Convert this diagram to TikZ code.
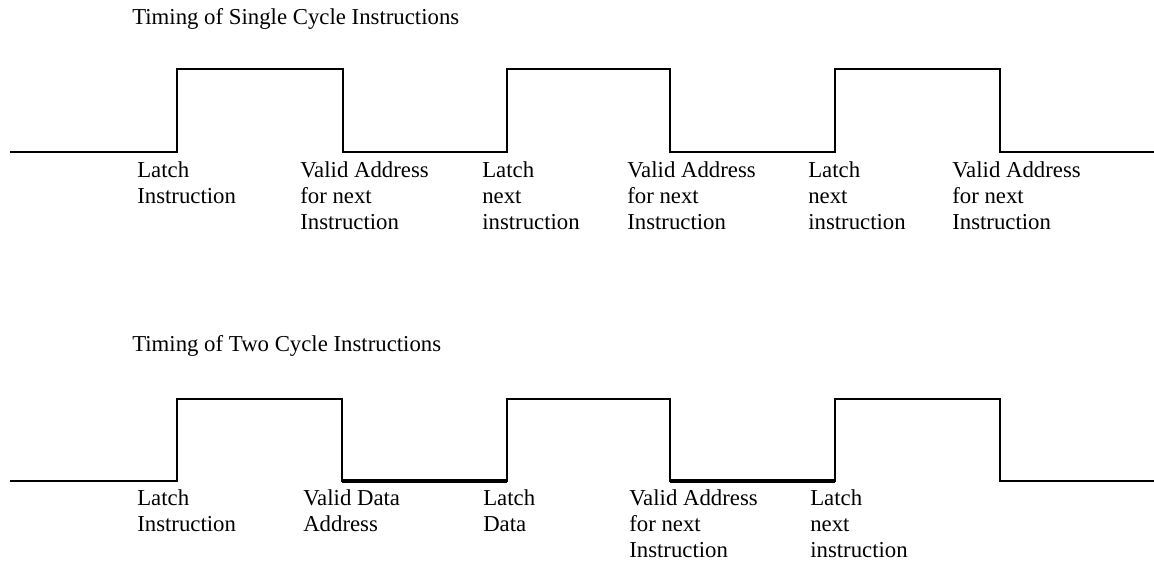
\documentclass[tikz,border=0pt]{standalone}
\usepackage{fontspec}
\setmainfont{Liberation Serif}
\usepackage{tikz}
\usetikzlibrary{positioning}

\begin{document}
\begin{tikzpicture}[x=0.025cm,y=-0.025cm,
  txt/.style={inner sep=0pt,align=left,font=\fontsize{16.2}{18.4}\selectfont},
  ttl/.style={txt,anchor=base west},
  lbl/.style={txt,anchor=north west},
  wave/.style={line width=1.2pt},
  hold/.style={line width=2.2pt}]
\useasboundingbox (0,0) rectangle (1154,561);
% single cycle
\node[ttl] (t1) at (132,24) {Timing of Single Cycle Instructions};
\foreach \x [count=\i] in {177,343,507,670,835,1000} {
  \coordinate (a\i) at (\x,152);
}
\draw[wave] (10,152) -- (a1) -- ++(0,-83) -| (a2) -- (a3) -- ++(0,-83) -| (a4)
  -- (a5) -- ++(0,-83) -| (a6) -- (1154,152);
\node[lbl] (l1) at (137,161.5) {Latch\\Instruction};
\node[lbl] (l2) at (300,161.5) {Valid Address\\for next\\Instruction};
\node[lbl] (l3) at (482,161.5) {Latch\\next\\instruction};
\node[lbl] (l4) at (627,161.5) {Valid Address\\for next\\Instruction};
\node[lbl] (l5) at (808,161.5) {Latch\\next\\instruction};
\node[lbl] (l6) at (952,161.5) {Valid Address\\for next\\Instruction};
% two cycle
\node[ttl] (t2) at (132,351) {Timing of Two Cycle Instructions};
\foreach \x [count=\i] in {177,342,507,670,835,1000} {
  \coordinate (b\i) at (\x,481);
}
\draw[wave] (10,481) -- (b1) -- ++(0,-82) -| (b2) -- (b3) -- ++(0,-82) -| (b4)
  -- (b5) -- ++(0,-82) -| (b6) -- (1154,481);
\draw[hold] (b2) -- (b3);
\draw[hold] (b4) -- (b5);
\node[lbl] (m1) at (137,489.5) {Latch\\Instruction};
\node[lbl] (m2) at (303,489.5) {Valid Data\\Address};
\node[lbl] (m3) at (483,489.5) {Latch\\Data};
\node[lbl] (m4) at (629,489.5) {Valid Address\\for next\\Instruction};
\node[lbl] (m5) at (810,489.5) {Latch\\next\\instruction};
\end{tikzpicture}
\end{document}
